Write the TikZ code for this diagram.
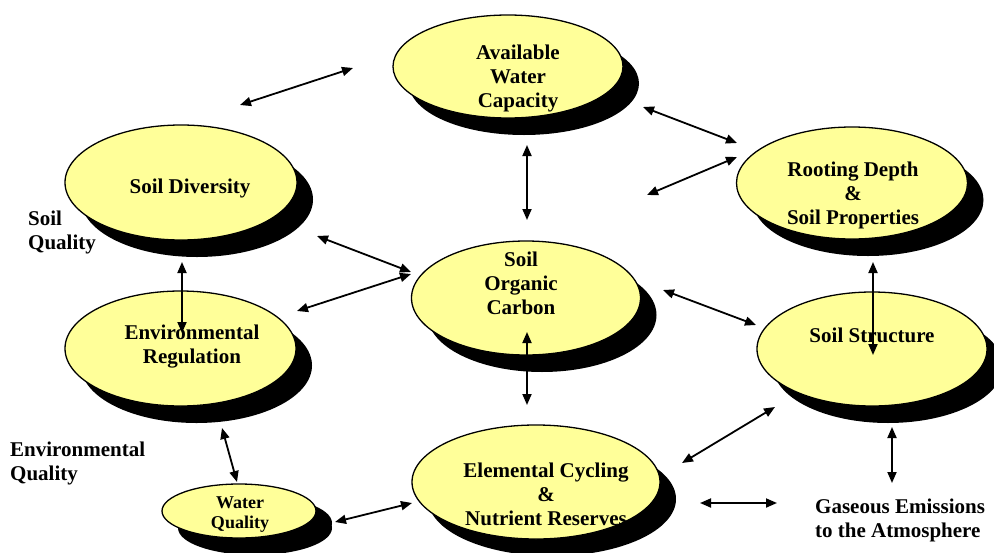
\documentclass[tikz,border=0pt]{standalone}
\usepackage{fontspec}
\setmainfont{Liberation Serif}
\usetikzlibrary{shapes.geometric,arrows.meta,shadows}
\definecolor{paleyellow}{RGB}{255,255,153}

\tikzset{
    blob/.style={ellipse, draw=black, line width=1.3pt, fill=paleyellow, inner sep=0pt,
        drop shadow={shadow xshift=16pt, shadow yshift=-17pt, opacity=1, fill=black}},
    lbl/.style={font=\bfseries\fontsize{21}{24}\selectfont, align=center, inner sep=0pt},
    link/.style={{Triangle[length=11pt,width=9pt]}-{Triangle[length=11pt,width=9pt]}, line width=1.8pt}
}

\begin{document}
\begin{tikzpicture}[x=1pt, y=-1pt]
    \useasboundingbox (0,0) rectangle (994,552);

    % Ellipses
    \node[blob, minimum width=230pt, minimum height=103pt] (awc) at (508,66.5) {};
    \node[blob, minimum width=232pt, minimum height=115pt] (sd) at (181,182.5) {};
    \node[blob, minimum width=231pt, minimum height=112pt] (rd) at (852,183) {};
    \node[blob, minimum width=229pt, minimum height=114pt] (soc) at (526,298) {};
    \node[blob, minimum width=231pt, minimum height=115pt] (er) at (180.5,348.5) {};
    \node[blob, minimum width=230pt, minimum height=114pt] (ss) at (872,349) {};
    \node[blob, minimum width=248pt, minimum height=114pt] (ec) at (536,482) {};
    \node[blob, minimum width=154pt, minimum height=54pt,
        drop shadow={shadow xshift=16pt, shadow yshift=-12pt, opacity=1, fill=black}] (wq) at (239,511) {};

    % Texts
    \node[lbl] (awc-txt) at (518,78) {Available\\Water\\Capacity};
    \node[lbl] (sd-txt) at (190,188) {Soil Diversity};
    \node[lbl] (rd-txt) at (853,195) {Rooting Depth\\\&\\Soil Properties};
    \node[lbl] (soc-txt) at (521,283) {Soil\\Organic\\Carbon};
    \node[lbl] (er-txt) at (192,347) {Environmental\\Regulation};
    \node[lbl] (ss-txt) at (872,335) {Soil Structure};
    \node[lbl] (ec-txt) at (546,494) {Elemental Cycling\\\&\\Nutrient Reserves};
    \node[lbl, font=\bfseries\fontsize{18}{20}\selectfont] (wq-txt) at (240,515) {Water\\Quality};

    \node[lbl, anchor=west, align=left] (sq) at (28,232) {Soil\\Quality};
    \node[lbl, anchor=west, align=left] (eq) at (10,463) {Environmental\\Quality};
    \node[lbl, anchor=west, align=left] (ge) at (815,520) {Gaseous Emissions\\to the Atmosphere};

    % Arrow ends
    \coordinate (sd-ne) at (240,105);  \coordinate (awc-w) at (353,68);
    \coordinate (awc-e) at (643,107);  \coordinate (rd-w1) at (737,143);
    \coordinate (rd-sw) at (647,195);  \coordinate (rd-w2) at (737,157);
    \coordinate (awc-s) at (527,145);  \coordinate (soc-n) at (527,220);
    \coordinate (sd-se) at (317,236);  \coordinate (soc-w1) at (411,272);
    \coordinate (er-ne) at (297,311);  \coordinate (soc-w2) at (411,274);
    \coordinate (sd-s) at (182,262);   \coordinate (er-n) at (182,333);
    \coordinate (soc-e) at (663,290);  \coordinate (ss-w) at (756,325);
    \coordinate (rd-s) at (873,262);   \coordinate (ss-n) at (873,355);
    \coordinate (soc-s) at (527,332);  \coordinate (ec-n) at (527,405);
    \coordinate (er-s) at (222,428);   \coordinate (wq-n) at (237,482);
    \coordinate (wq-e) at (335,522);   \coordinate (ec-w) at (412,503);
    \coordinate (ec-ne) at (682,463);  \coordinate (ss-sw) at (775,407);
    \coordinate (ec-e) at (700,503);   \coordinate (ge-w) at (777,503);
    \coordinate (ss-s) at (892,427);   \coordinate (ge-n) at (892,483);

    % Links
    \foreach \p/\q in {sd-ne/awc-w, awc-e/rd-w1, rd-sw/rd-w2, awc-s/soc-n,
        sd-se/soc-w1, er-ne/soc-w2, sd-s/er-n, soc-e/ss-w, rd-s/ss-n,
        soc-s/ec-n, er-s/wq-n, wq-e/ec-w, ec-ne/ss-sw, ec-e/ge-w, ss-s/ge-n} {
        \draw[link] (\p) -- (\q);
    }
\end{tikzpicture}
\end{document}
